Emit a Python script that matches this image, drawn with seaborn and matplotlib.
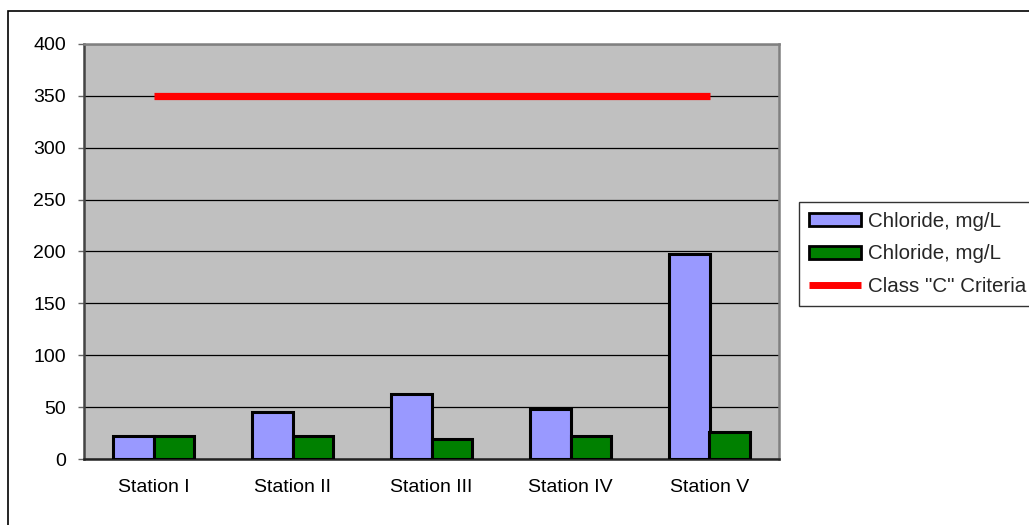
import matplotlib
matplotlib.use("Agg")
import matplotlib.pyplot as plt
import seaborn as sns
import pandas as pd
import numpy as np
from matplotlib.patches import Patch, Rectangle
from matplotlib.lines import Line2D

stations = ["Station I", "Station II", "Station III", "Station IV", "Station V"]
chloride_a = [22, 45, 63, 48, 198]
chloride_b = [22, 22, 19, 22, 26]
criteria = [350, 350, 350, 350, 350]
series_labels = ["Chloride, mg/L", "Chloride, mg/L", "Class \"C\" Criteria"]
y_ticks = [0, 50, 100, 150, 200, 250, 300, 350, 400]

df = pd.DataFrame({
    "station": stations * 2,
    "value": chloride_a + chloride_b,
    "series": ["a"] * len(stations) + ["b"] * len(stations),
})

sns.set_theme(style="white")
plt.rcParams["font.family"] = ["Liberation Sans", "DejaVu Sans"]

fig = plt.figure(figsize=(10.29, 5.25), dpi=100)
ax = fig.add_axes([84 / 1029, 66 / 525, 695 / 1029, 415 / 525])
ax.set_facecolor("#c0c0c0")

bar_colors = {"a": "#9999ff", "b": "#008000"}
sns.barplot(data=df, x="station", y="value", hue="series", palette=bar_colors,
            width=0.58, edgecolor="black", linewidth=2.2, saturation=1,
            legend=False, ax=ax, zorder=3)

ax.plot(np.arange(len(stations)), criteria, color="#ff0000", lw=5.2,
        solid_capstyle="butt", zorder=4)

ax.set_ylim(0, 400)
ax.set_xlim(-0.5, len(stations) - 0.5)
ax.set_yticks(y_ticks)
ax.yaxis.grid(True, color="black", lw=0.9, zorder=1)
ax.set_axisbelow(True)
ax.set_xlabel("")
ax.set_ylabel("")

ax.set_xticks(np.arange(len(stations)))
ax.set_xticklabels(stations)
ax.set_xticks(np.arange(len(stations) + 1) - 0.5, minor=True)
ax.tick_params(axis="x", which="major", length=0, pad=14.5, labelsize=14, colors="black")
ax.tick_params(axis="x", which="minor", length=5, width=1, color="#666666", direction="out")
ax.tick_params(axis="y", which="major", length=4.5, width=1, color="#666666",
               direction="out", left=True, labelsize=14, labelcolor="black", pad=8.5)

for side in ["top", "right"]:
    ax.spines[side].set_color("#808080")
    ax.spines[side].set_linewidth(1.8)
ax.spines["left"].set_color("#444444")
ax.spines["left"].set_linewidth(1.8)
ax.spines["bottom"].set_color("#222222")
ax.spines["bottom"].set_linewidth(1.8)

handles = [
    Patch(facecolor=bar_colors["a"], edgecolor="black", linewidth=2),
    Patch(facecolor=bar_colors["b"], edgecolor="black", linewidth=2),
    Line2D([0], [0], color="#ff0000", lw=5, solid_capstyle="butt"),
]
leg = fig.legend(handles, series_labels, loc="upper left",
                 bbox_to_anchor=(799 / 1029, 1 - 202 / 525),
                 frameon=True, fancybox=False, fontsize=14.8,
                 handlelength=2.55, handleheight=0.62, handletextpad=0.34,
                 labelspacing=0.66, borderpad=0.48, borderaxespad=0)
leg.get_frame().set_edgecolor("black")
leg.get_frame().set_linewidth(1)

fig.patches.append(Rectangle((8 / 1029, -0.2), 1.2, 1.2 - 11 / 525,
                             transform=fig.transFigure, fill=False,
                             edgecolor="black", lw=1.2))

fig.savefig("out.png", dpi=100)
